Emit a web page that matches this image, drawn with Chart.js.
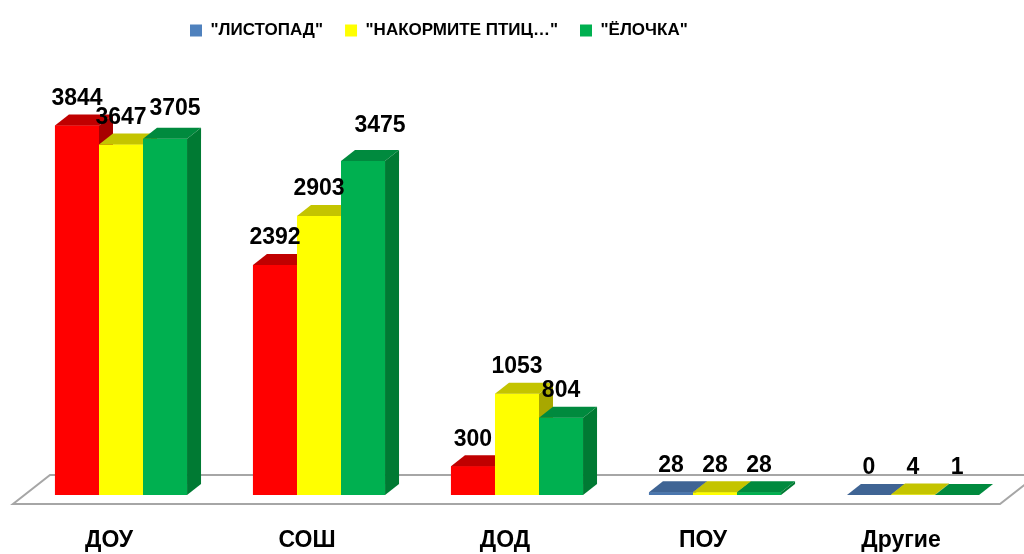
<!DOCTYPE html>
<html>
<head>
<meta charset="utf-8">
<script src="https://cdn.jsdelivr.net/npm/chart.js@4"></script>
<style>
  html, body { margin: 0; padding: 0; background: #ffffff; }
  #wrap { width: 1024px; height: 554px; position: relative; }
</style>
</head>
<body>
<div id="wrap"><canvas id="c" width="1024" height="554"></canvas></div>
<script>
// ---- data ----
const categories = ['ДОУ', 'СОШ', 'ДОД', 'ПОУ', 'Другие'];
const seriesNames = ['"ЛИСТОПАД"', '"НАКОРМИТЕ ПТИЦ…"', '"ЁЛОЧКА"'];
const listopad = [3844, 2392, 300, 28, 0];
const nakormite = [3647, 2903, 1053, 28, 4];
const elochka = [3705, 3475, 804, 28, 1];

// ---- styles ----
const legendColors = ['#4F81BD', '#FFFF00', '#00B050'];
const frontColors = [
  ['#FF0000', '#FF0000', '#FF0000', '#4A76AE', '#4A76AE'],
  '#FFFF00',
  '#00B050'
];
const topColors = [
  ['#C00000', '#C00000', '#C00000', '#3F6494', '#3F6494'],
  '#C4C400',
  '#008A3E'
];
const sideColors = [
  ['#A80000', '#A80000', '#A80000', '#345480', '#345480'],
  '#A8A800',
  '#007A33'
];
const DX = 14, DY = 11;
const LABEL_FONT = 'bold 23px "Liberation Sans", Arial, sans-serif';

function pick(c, i) { return Array.isArray(c) ? c[i] : c; }

const threeD = {
  id: 'threeD',
  afterLayout(chart) {
    chart.legend.left = 168;
  },
  beforeDatasetsDraw(chart) {
    const ctx = chart.ctx;
    const area = chart.chartArea;
    const zeroY = chart.scales.y.getPixelForValue(0);
    const fy = zeroY + 9, by = zeroY - 20;
    const fl = area.left - 9, fr = area.right - 12;
    ctx.save();
    ctx.beginPath();
    ctx.moveTo(fl, fy);
    ctx.lineTo(fr, fy);
    ctx.lineTo(fr + 37, by);
    ctx.lineTo(fl + 37, by);
    ctx.closePath();
    ctx.fillStyle = '#ffffff';
    ctx.fill();
    ctx.strokeStyle = '#A6A6A6';
    ctx.lineWidth = 2;
    ctx.stroke();
    ctx.restore();
  },
  afterDatasetsDraw(chart, args, opts) {
    const ctx = chart.ctx;
    const n = chart.data.datasets.length;
    ctx.save();
    for (let j = 0; j < chart.data.labels.length; j++) {
      for (let d = 0; d < n; d++) {
        const bar = chart.getDatasetMeta(d).data[j];
        const p = bar.getProps(['x', 'y', 'base', 'width'], true);
        const l = p.x - p.width / 2, r = p.x + p.width / 2;
        const top = Math.min(p.y, p.base), base = Math.max(p.y, p.base);
        ctx.fillStyle = pick(frontColors[d], j);
        ctx.fillRect(l, top, r - l, base - top);
        ctx.beginPath();
        ctx.moveTo(l, top); ctx.lineTo(r, top);
        ctx.lineTo(r + DX, top - DY); ctx.lineTo(l + DX, top - DY);
        ctx.closePath();
        ctx.fillStyle = pick(topColors[d], j);
        ctx.fill();
        ctx.beginPath();
        ctx.moveTo(r, top); ctx.lineTo(r + DX, top - DY);
        ctx.lineTo(r + DX, base - DY); ctx.lineTo(r, base);
        ctx.closePath();
        ctx.fillStyle = pick(sideColors[d], j);
        ctx.fill();
      }
    }
    ctx.font = LABEL_FONT;
    ctx.fillStyle = '#000000';
    ctx.textAlign = 'center';
    ctx.textBaseline = 'middle';
    const nudge = opts.nudge || {};
    for (let d = 0; d < n; d++) {
      const meta = chart.getDatasetMeta(d);
      meta.data.forEach((bar, j) => {
        const p = bar.getProps(['x', 'y'], true);
        const off = nudge[d + ':' + j] || [0, 0];
        ctx.fillText(String(chart.data.datasets[d].data[j]), p.x + off[0], p.y - 27 + off[1]);
      });
    }
    ctx.restore();
  }
};

new Chart(document.getElementById('c'), {
  type: 'bar',
  data: {
    labels: categories,
    datasets: [
      { label: seriesNames[0], data: listopad, backgroundColor: frontColors[0], borderWidth: 0 },
      { label: seriesNames[1], data: nakormite, backgroundColor: frontColors[1], borderWidth: 0 },
      { label: seriesNames[2], data: elochka, backgroundColor: frontColors[2], borderWidth: 0 }
    ]
  },
  options: {
    responsive: false,
    animation: false,
    devicePixelRatio: 1,
    categoryPercentage: 0.667,
    barPercentage: 1,
    layout: { padding: { left: 22, right: 12, top: 0, bottom: 0 } },
    plugins: {
      tooltip: { enabled: false },
      threeD: { nudge: { '2:0': [10, -3], '2:1': [17, -8] } },
      legend: {
        position: 'top',
        align: 'start',
        labels: {
          boxWidth: 12,
          boxHeight: 12,
          padding: 22,
          color: '#000000',
          font: { family: '"Liberation Sans", Arial, sans-serif', size: 17, weight: 'bold' },
          generateLabels(chart) {
            const items = Chart.defaults.plugins.legend.labels.generateLabels(chart);
            items.forEach((it, i) => {
              it.fillStyle = legendColors[i];
              it.strokeStyle = legendColors[i];
              it.lineWidth = 0;
            });
            return items;
          }
        }
      }
    },
    scales: {
      x: {
        grid: { display: false, drawTicks: false },
        border: { display: false },
        afterFit(scale) { scale.height = 59; },
        ticks: {
          padding: 32,
          labelOffset: -12,
          color: '#000000',
          font: { family: '"Liberation Sans", Arial, sans-serif', size: 23, weight: 'bold' }
        }
      },
      y: {
        display: false,
        min: 0,
        max: 4640
      }
    }
  },
  plugins: [threeD]
});
</script>
</body>
</html>
